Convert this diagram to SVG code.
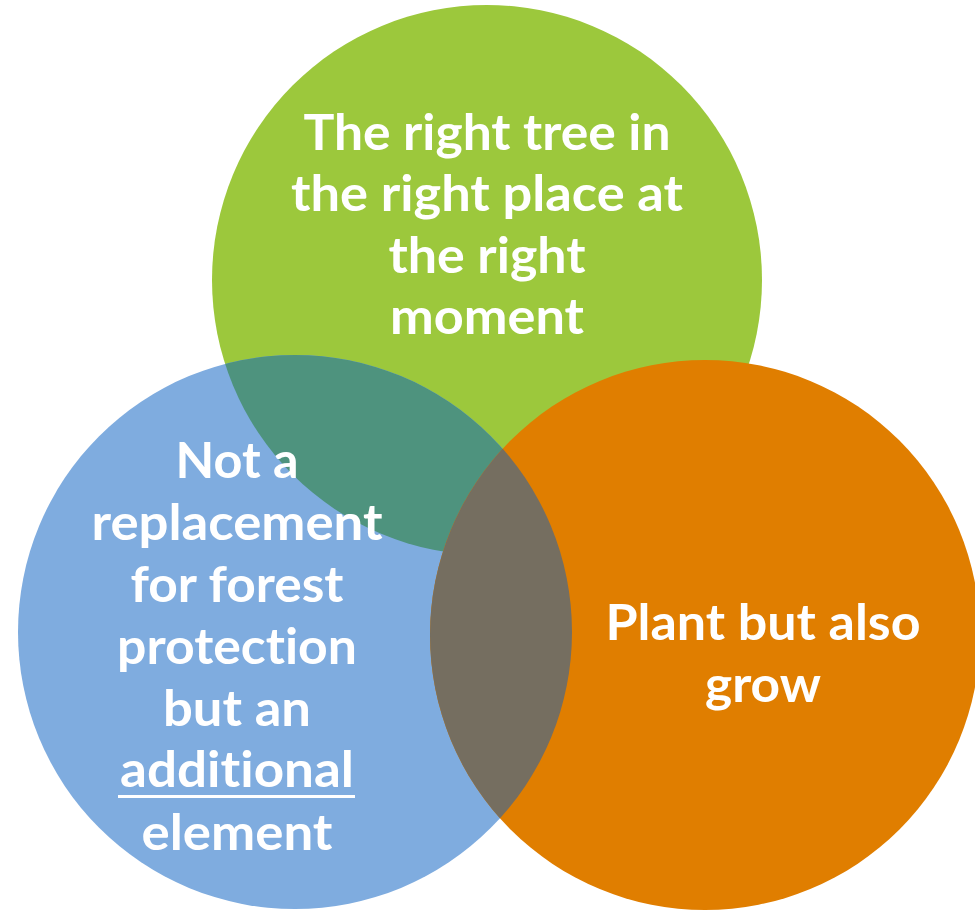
<svg xmlns="http://www.w3.org/2000/svg" width="975" height="915" viewBox="0 0 975 915">
<style>
.t{font-family:"Lato","Open Sans","Liberation Sans",sans-serif;font-weight:bold;font-size:50px;fill:#fff;text-anchor:middle;font-variant-ligatures:none;font-feature-settings:"liga" 0,"dlig" 0}
</style>
<defs>
<clipPath id="cg"><circle cx="487" cy="280" r="275"/></clipPath>
<clipPath id="co"><circle cx="705" cy="635" r="275"/></clipPath>
</defs>
<rect width="975" height="915" fill="#fff"/>
<g id="green">
<circle cx="487" cy="280" r="275" fill="#9CC83C"/>
</g>
<g id="blue">
<circle cx="295" cy="632" r="277" fill="#7FACDF"/>
</g>
<g id="blue-green">
<circle cx="295" cy="632" r="277" fill="#4E937E" clip-path="url(#cg)"/>
</g>
<g id="orange">
<circle cx="705" cy="635" r="275" fill="#E07E00"/>
</g>
<g id="blue-orange">
<circle cx="295" cy="632" r="277" fill="#756E60" clip-path="url(#co)"/>
</g>
<g id="green-text">
<text class="t" x="487" y="150" textLength="367" lengthAdjust="spacingAndGlyphs">The right tree in</text>
<text class="t" x="487" y="211" textLength="392" lengthAdjust="spacingAndGlyphs">the right place at</text>
<text class="t" x="487" y="273" textLength="197" lengthAdjust="spacingAndGlyphs">the right</text>
<text class="t" x="487" y="334" textLength="194" lengthAdjust="spacingAndGlyphs">moment</text>
</g>
<g id="blue-text">
<text class="t" x="237" y="478" textLength="123" lengthAdjust="spacingAndGlyphs">Not a</text>
<text class="t" x="237" y="540" textLength="291" lengthAdjust="spacingAndGlyphs">replacement</text>
<text class="t" x="237" y="602" textLength="213" lengthAdjust="spacingAndGlyphs">for forest</text>
<text class="t" x="237" y="664" textLength="240" lengthAdjust="spacingAndGlyphs">protection</text>
<text class="t" x="237" y="726" textLength="148" lengthAdjust="spacingAndGlyphs">but an</text>
<text class="t" x="237" y="787" textLength="234" lengthAdjust="spacingAndGlyphs">additional</text>
<rect x="118" y="795" width="237" height="3" fill="#fff"/>
<text class="t" x="237" y="850" textLength="191" lengthAdjust="spacingAndGlyphs">element</text>
</g>
<g id="orange-text">
<text class="t" x="763" y="640" textLength="315" lengthAdjust="spacingAndGlyphs">Plant but also</text>
<text class="t" x="763" y="702" textLength="116" lengthAdjust="spacingAndGlyphs">grow</text>
</g>
</svg>
